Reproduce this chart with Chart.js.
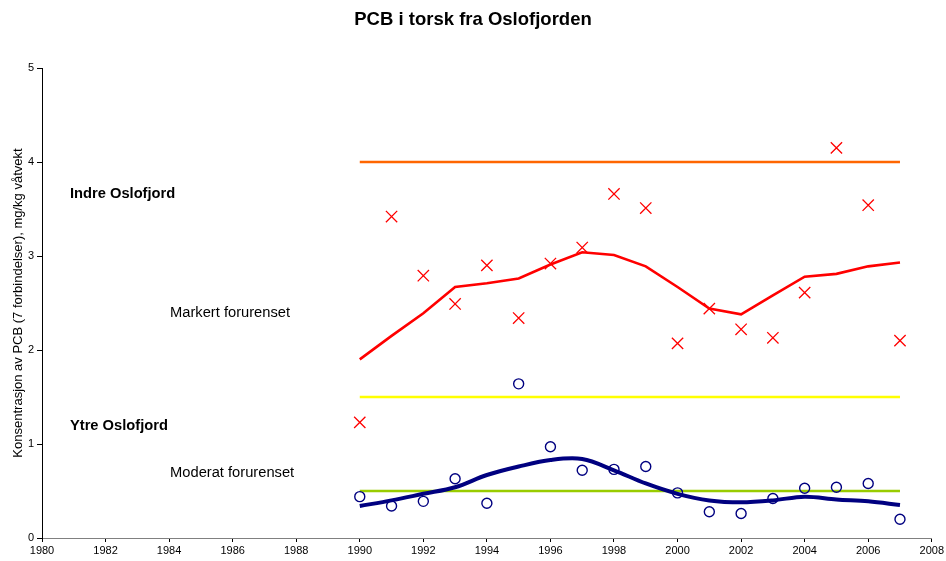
<!DOCTYPE html>
<html>
<head>
<meta charset="utf-8">
<script src="https://cdn.jsdelivr.net/npm/chart.js@4/dist/chart.umd.min.js"></script>
<style>
  html, body { margin: 0; padding: 0; background: #fff; }
  #wrap { width: 946px; height: 561px; }
</style>
</head>
<body>
<div id="wrap"><canvas id="c" width="946" height="561"></canvas></div>
<script>
// ---- data ----
const chartTitle = 'PCB i torsk fra Oslofjorden';
const years = [1990,1991,1992,1993,1994,1995,1996,1997,1998,1999,2000,2001,2002,2003,2004,2005,2006,2007];
const indreValues = [1.23,3.42,2.79,2.49,2.90,2.34,2.92,3.09,3.66,3.51,2.07,2.44,2.22,2.13,2.61,4.15,3.54,2.10];
const indreTrend  = [1.90,2.15,2.39,2.67,2.71,2.76,2.91,3.04,3.01,2.89,2.67,2.44,2.38,2.58,2.78,2.81,2.89,2.93];
const ytreValues  = [0.44,0.34,0.39,0.63,0.37,1.64,0.97,0.72,0.73,0.76,0.48,0.28,0.26,0.42,0.53,0.54,0.58,0.20];
const ytreTrend   = [0.34,0.40,0.47,0.54,0.67,0.76,0.83,0.84,0.72,0.58,0.47,0.40,0.38,0.40,0.44,0.41,0.39,0.35];
const limitYears  = [1990, 2007];
const limitSterkt = 4.0;   // orange
const limitMarkert = 1.5;  // yellow
const limitModerat = 0.5;  // green
const xTickRange = [1980, 2008];
const yTickRange = [0, 5];
const annotations = [
  { text: 'Indre Oslofjord',    x: 1980.88, y: 3.66, bold: true },
  { text: 'Markert forurenset', x: 1984.03, y: 2.39, bold: false },
  { text: 'Ytre Oslofjord',     x: 1980.88, y: 1.19, bold: true },
  { text: 'Moderat forurenset', x: 1984.03, y: 0.69, bold: false }
];

const pts = (xs, ys) => xs.map((x, i) => ({ x: x, y: ys[i] }));
const flat = (v) => limitYears.map(x => ({ x: x, y: v }));

const FONT = '"Liberation Sans", Arial, sans-serif';

const textPlugin = {
  id: 'textPlugin',
  afterDatasetsDraw(chart) {
    const ctx = chart.ctx;
    const xs = chart.scales.x, ys = chart.scales.y;
    ctx.save();
    ctx.fillStyle = '#000';
    // title, centred on the canvas
    ctx.textAlign = 'center';
    ctx.textBaseline = 'middle';
    ctx.font = 'bold 18.5px ' + FONT;
    ctx.fillText(chartTitle, chart.width / 2, 20);
    // annotations
    ctx.textAlign = 'left';
    annotations.forEach(a => {
      ctx.font = (a.bold ? 'bold ' : '') + '14.7px ' + FONT;
      ctx.fillText(a.text, xs.getPixelForValue(a.x), ys.getPixelForValue(a.y));
    });
    ctx.restore();
  }
};

new Chart(document.getElementById('c'), {
  type: 'scatter',
  data: {
    datasets: [
      { label: 'Indre', data: pts(years, indreValues), showLine: false,
        pointStyle: 'crossRot', pointRadius: 8, pointHoverRadius: 8,
        borderColor: '#FF0000', backgroundColor: '#FF0000', pointBorderWidth: 1.3 },
      { label: 'Ytre', data: pts(years, ytreValues), showLine: false,
        pointStyle: 'circle', pointRadius: 5, pointHoverRadius: 5,
        borderColor: '#000080', backgroundColor: 'rgba(255,255,255,0)', pointBorderWidth: 1.4 },
      { label: 'Indre trend', data: pts(years, indreTrend), showLine: true,
        pointRadius: 0, borderColor: '#FF0000', borderWidth: 2.6, tension: 0 },
      { label: 'Ytre trend', data: pts(years, ytreTrend), showLine: true,
        pointRadius: 0, borderColor: '#000080', borderWidth: 4, tension: 0.35 },
      { label: 'Sterkt', data: flat(limitSterkt), showLine: true,
        pointRadius: 0, borderColor: '#FF6600', borderWidth: 2.6 },
      { label: 'Markert', data: flat(limitMarkert), showLine: true,
        pointRadius: 0, borderColor: '#FFFF00', borderWidth: 2.6 },
      { label: 'Moderat', data: flat(limitModerat), showLine: true,
        pointRadius: 0, borderColor: '#99CC00', borderWidth: 2.6 }
    ]
  },
  options: {
    responsive: false,
    animation: false,
    events: [],
    layout: { padding: { left: 0, right: 14, top: 68, bottom: 0 } },
    plugins: {
      legend: { display: false },
      tooltip: { enabled: false },
      title: { display: false }
    },
    scales: {
      x: {
        type: 'linear',
        min: xTickRange[0], max: xTickRange[1],
        offset: false,
        afterFit: s => { s.height = 23; },
        border: { display: true, color: '#808080', width: 1 },
        grid: { display: true, drawOnChartArea: false, drawTicks: true, tickLength: 4, color: '#000' },
        ticks: { stepSize: 2, color: '#000', font: { family: FONT, size: 11 }, padding: 2,
                 maxRotation: 0, autoSkip: false, callback: v => String(v) }
      },
      y: {
        type: 'linear',
        min: yTickRange[0], max: yTickRange[1],
        afterFit: s => { s.width = 42; },
        border: { display: true, color: '#000', width: 1 },
        grid: { display: true, drawOnChartArea: false, drawTicks: true, tickLength: 5, color: '#000' },
        ticks: { stepSize: 1, color: '#000', font: { family: FONT, size: 11 }, padding: 3 },
        title: {
          display: true,
          text: 'Konsentrasjon av PCB (7 forbindelser), mg/kg våtvekt',
          color: '#000',
          font: { family: FONT, size: 13 },
          padding: { top: 11, bottom: 0 }
        }
      }
    }
  },
  plugins: [textPlugin]
});
</script>
</body>
</html>
